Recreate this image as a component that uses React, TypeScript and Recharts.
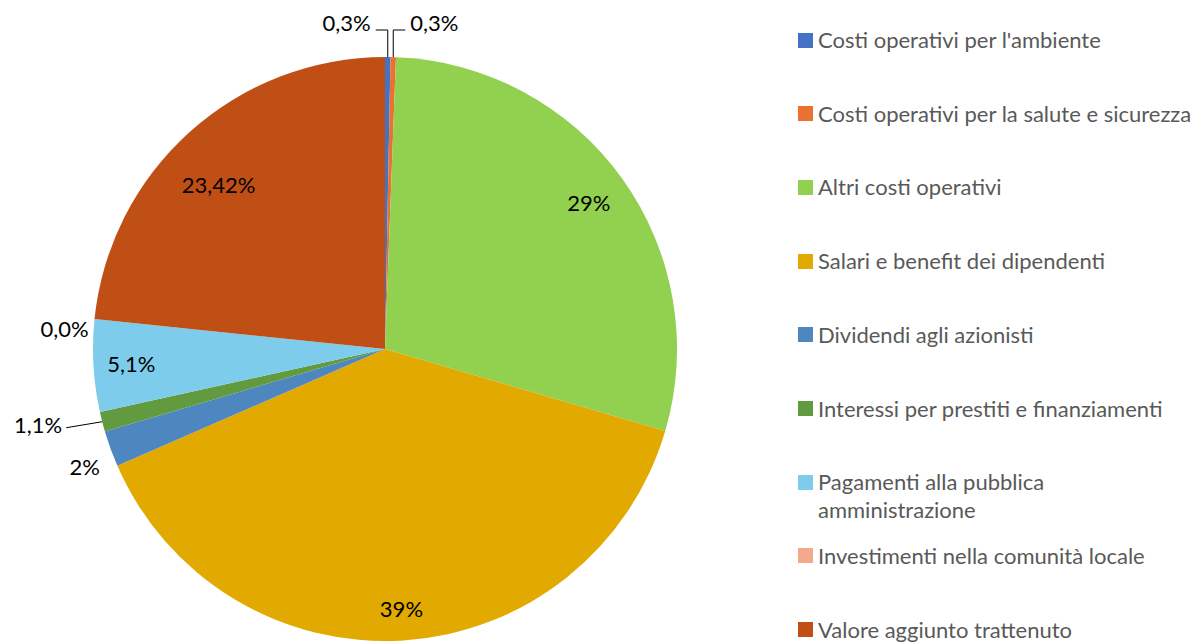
import { Legend, Pie, PieChart, Cell } from "recharts"

const categories = [
  "Costi operativi per l'ambiente",
  "Costi operativi per la salute e sicurezza",
  "Altri costi operativi",
  "Salari e benefit dei dipendenti",
  "Dividendi agli azionisti",
  "Interessi per prestiti e finanziamenti",
  "Pagamenti alla pubblica\namministrazione",
  "Investimenti nella comunità locale",
  "Valore aggiunto trattenuto",
]

const values = [0.3, 0.3, 29, 39, 2, 1.1, 5.1, 0.0, 23.42]

const valueLabels = ["0,3%", "0,3%", "29%", "39%", "2%", "1,1%", "5,1%", "0,0%", "23,42%"]

const colors = [
  "#4472C4",
  "#E97132",
  "#92D050",
  "#E2A900",
  "#4E87BF",
  "#629B3F",
  "#7ECCEB",
  "#F4A98A",
  "#C04F15",
]

const data = categories.map((name, i) => ({ name, value: values[i], label: valueLabels[i] }))

const FONT = "Lato, 'Open Sans', sans-serif"
const RADIAN = Math.PI / 180

// where each label sits: inside slices use a radius factor, small ones get an offset from the rim
const labelPlacement: Record<number, { r?: number; dx?: number; dy?: number; anchor?: "start" | "middle" | "end"; line?: "up-left" | "up-right" | "left" }> = {
  0: { line: "up-left" },
  1: { line: "up-right" },
  2: { r: 0.86 },
  3: { r: 0.89 },
  4: { dx: -26, dy: 18, anchor: "middle" },
  5: { line: "left" },
  6: { r: 0.87 },
  7: { dx: -6, dy: 9, anchor: "end" },
  8: { r: 0.8, dx: -10, dy: 9 },
}

function renderLabel(props: any) {
  const { cx, cy, midAngle, outerRadius, index } = props
  const text = data[index].label
  const cfg = labelPlacement[index] || {}
  const cos = Math.cos(-midAngle * RADIAN)
  const sin = Math.sin(-midAngle * RADIAN)
  const style = { fontFamily: FONT, fontSize: 22, fill: "#000" }

  if (cfg.r) {
    const x = cx + outerRadius * cfg.r * cos + (cfg.dx || 0)
    const y = cy + outerRadius * cfg.r * sin + (cfg.dy || 0)
    return (
      <text x={x} y={y} textAnchor="middle" dominantBaseline="central" style={style}>
        {text}
      </text>
    )
  }

  const ox = cx + outerRadius * cos
  const oy = cy + outerRadius * sin

  if (cfg.line === "up-left" || cfg.line === "up-right") {
    const dir = cfg.line === "up-left" ? -1 : 1
    const ty = cy - outerRadius - 27
    return (
      <g>
        <path d={`M${ox},${oy} L${ox},${ty} L${ox + dir * 12},${ty}`} stroke="#000" strokeWidth={1} fill="none" />
        <text x={ox + dir * 17} y={ty - 8} textAnchor={dir < 0 ? "end" : "start"} dominantBaseline="central" style={style}>
          {text}
        </text>
      </g>
    )
  }

  if (cfg.line === "left") {
    const ex = ox - 36
    const ey = oy + 6
    return (
      <g>
        <path d={`M${ox},${oy} L${ex},${ey}`} stroke="#000" strokeWidth={1} fill="none" />
        <text x={ex - 4} y={ey - 3} textAnchor="end" dominantBaseline="central" style={style}>
          {text}
        </text>
      </g>
    )
  }

  return (
    <text x={ox + (cfg.dx || 0)} y={oy + (cfg.dy || 0)} textAnchor={cfg.anchor || "middle"} dominantBaseline="central" style={style}>
      {text}
    </text>
  )
}

function renderLegend(props: any) {
  const payload = props.payload || []
  // keep the series order (recharts sorts the payload by name)
  const items = categories.map((name, i) => {
    const p = payload.find((e: any) => e.value === name)
    return { name, color: p ? p.color : colors[i] }
  })
  return (
    <div style={{ position: "relative", width: 400, height: 643 }}>
      {items.map((entry, i) => (
        <div
          key={i}
          style={{
            position: "absolute",
            left: 0,
            top: 40 + i * 73.7 - 14,
            display: "flex",
            alignItems: "flex-start",
            fontFamily: FONT,
            fontSize: 22,
            lineHeight: "28px",
            color: "#595959",
            whiteSpace: "pre-line",
          }}
        >
          <span style={{ display: "inline-block", flex: "none", width: 15, height: 15, background: entry.color, marginTop: 6.5, marginRight: 5 }} />
          <span>{entry.name}</span>
        </div>
      ))}
    </div>
  )
}

export default function App() {
  return (
    <div style={{ position: "absolute", left: 0, top: 0, width: 1204, height: 643, background: "#fff" }}>
      <PieChart width={1204} height={643} margin={{ top: 0, right: 0, bottom: 0, left: 0 }}>
        <Pie
          data={data}
          dataKey="value"
          nameKey="name"
          cx={385}
          cy={349}
          outerRadius={292}
          startAngle={90}
          endAngle={-270}
          stroke="none"
          label={renderLabel}
          labelLine={false}
          isAnimationActive={false}
        >
          {data.map((d, i) => (
            <Cell key={d.name} fill={colors[i]} />
          ))}
        </Pie>
        <Legend
          layout="vertical"
          align="right"
          verticalAlign="top"
          content={renderLegend}
          wrapperStyle={{ left: 798, right: "auto", top: 0, width: 400, height: 643 }}
        />
      </PieChart>
    </div>
  )
}
